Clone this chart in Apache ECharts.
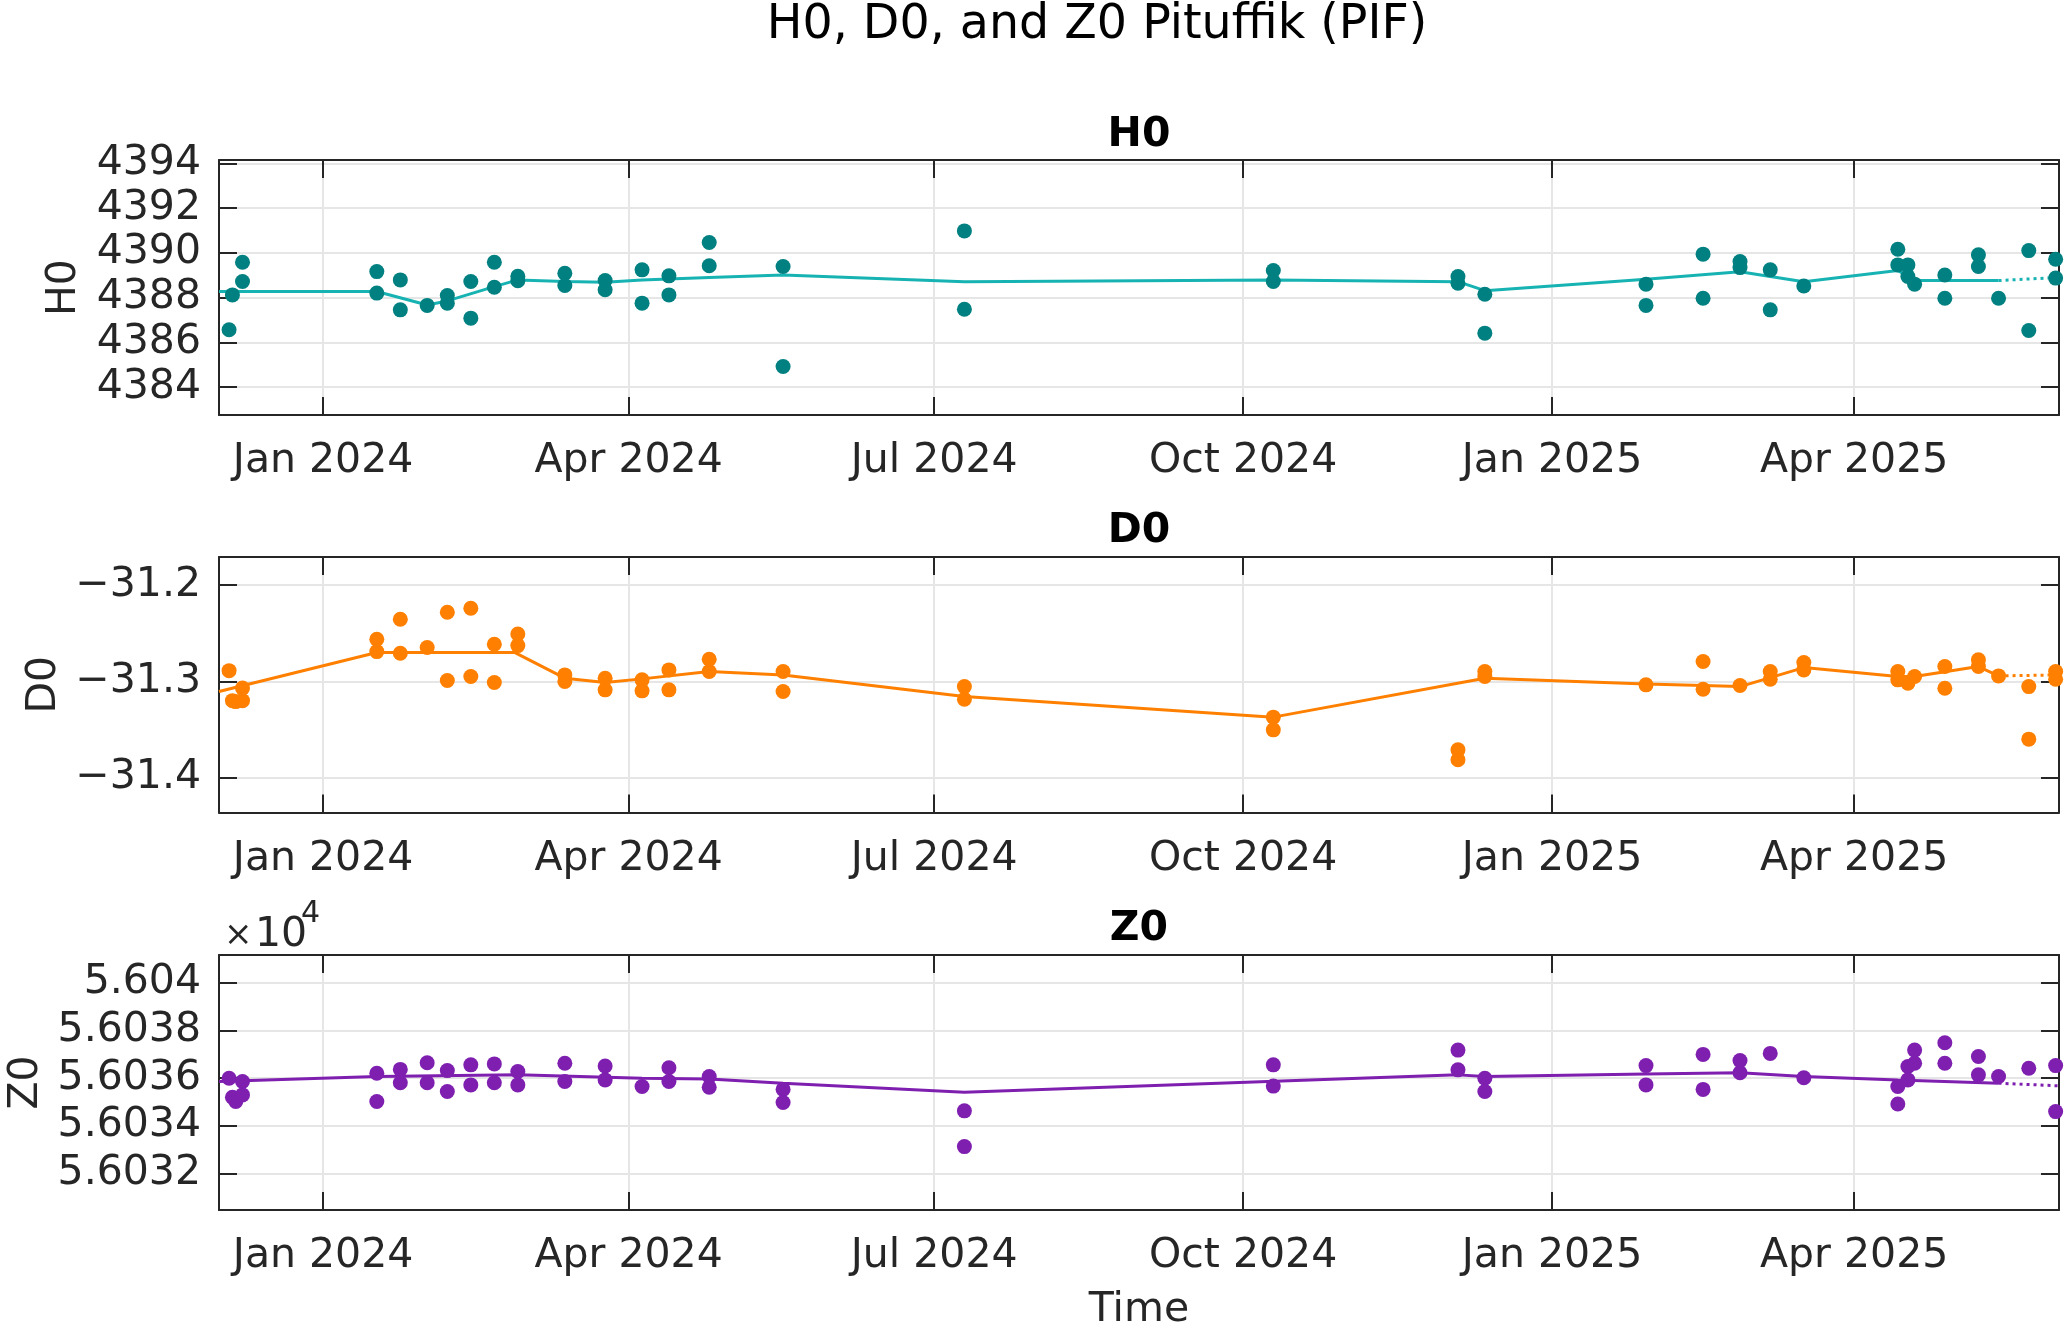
<!DOCTYPE html>
<html>
<head>
<meta charset="utf-8">
<style>
html,body{margin:0;padding:0;background:#fff;}
#chart{width:2067px;height:1325px;}
</style>
<script src="https://cdn.jsdelivr.net/npm/echarts@6.0.0/dist/echarts.min.js"></script>
</head>
<body>
<div id="chart"></div>
<script>
// ---------- data ----------
const xRange = ['2023-12-01', '2025-06-01'];
const xTickDates = ['2024-01-01', '2024-04-01', '2024-07-01', '2024-10-01', '2025-01-01', '2025-04-01'];
const xTickLabels = ['Jan 2024', 'Apr 2024', 'Jul 2024', 'Oct 2024', 'Jan 2025', 'Apr 2025'];

const h0Range = [4382.75, 4394.15];
const h0Ticks = [4384, 4386, 4388, 4390, 4392, 4394];
const h0TickLabels = ['4384', '4386', '4388', '4390', '4392', '4394'];

const d0Range = [-31.436, -31.171];
const d0Ticks = [-31.4, -31.3, -31.2];
const d0TickLabels = ['\u221231.4', '\u221231.3', '\u221231.2'];

const z0Range = [56030.46, 56041.16];
const z0Ticks = [56032, 56034, 56036, 56038, 56040];
const z0TickLabels = ['5.6032', '5.6034', '5.6036', '5.6038', '5.604'];

const h0Dates = ['2023-12-04','2023-12-05','2023-12-08','2023-12-08','2024-01-17','2024-01-17','2024-01-24','2024-01-24','2024-02-01','2024-02-07','2024-02-07','2024-02-14','2024-02-14','2024-02-21','2024-02-21','2024-02-28','2024-02-28','2024-03-13','2024-03-13','2024-03-25','2024-03-25','2024-04-05','2024-04-05','2024-04-13','2024-04-13','2024-04-25','2024-04-25','2024-05-17','2024-05-17','2024-07-10','2024-07-10','2024-10-10','2024-10-10','2024-12-04','2024-12-04','2024-12-12','2024-12-12','2025-01-29','2025-01-29','2025-02-15','2025-02-15','2025-02-26','2025-02-26','2025-03-07','2025-03-07','2025-03-17','2025-04-14','2025-04-14','2025-04-17','2025-04-17','2025-04-19','2025-04-28','2025-04-28','2025-05-08','2025-05-08','2025-05-14','2025-05-23','2025-05-23','2025-05-31','2025-05-31'];
const h0Values = [4386.56,4388.12,4388.72,4389.58,4389.16,4388.20,4388.79,4387.45,4387.65,4388.09,4387.75,4388.72,4387.08,4389.58,4388.46,4388.95,4388.75,4389.09,4388.54,4388.76,4388.35,4389.24,4387.75,4388.97,4388.12,4390.46,4389.42,4389.39,4384.92,4390.98,4387.48,4389.21,4388.72,4388.94,4388.64,4388.15,4386.41,4388.60,4387.65,4389.94,4387.97,4389.61,4389.34,4389.24,4387.45,4388.52,4390.16,4389.46,4389.46,4388.94,4388.60,4389.01,4387.97,4389.91,4389.39,4387.97,4390.10,4386.53,4389.71,4388.87];
const h0LineDates = ['2023-12-01','2024-01-17','2024-02-01','2024-02-07','2024-02-21','2024-02-28','2024-03-13','2024-03-25','2024-04-05','2024-04-25','2024-05-17','2024-07-10','2024-10-10','2024-12-04','2024-12-12','2025-01-29','2025-02-26','2025-03-17','2025-04-14','2025-04-19','2025-05-14'];
const h0LineValues = [4388.27,4388.27,4387.67,4387.85,4388.49,4388.79,4388.72,4388.69,4388.78,4388.90,4389.01,4388.71,4388.79,4388.71,4388.31,4388.82,4389.15,4388.71,4389.21,4388.76,4388.76];
const h0TailDates = ['2025-05-14','2025-06-01'];
const h0TailValues = [4388.76, 4388.90];

const d0Dates = ['2023-12-04','2023-12-05','2023-12-06','2023-12-08','2023-12-08','2024-01-17','2024-01-17','2024-01-24','2024-01-24','2024-02-01','2024-02-07','2024-02-07','2024-02-14','2024-02-14','2024-02-21','2024-02-21','2024-02-28','2024-02-28','2024-03-13','2024-03-13','2024-03-25','2024-03-25','2024-04-05','2024-04-05','2024-04-13','2024-04-13','2024-04-25','2024-04-25','2024-05-17','2024-05-17','2024-07-10','2024-07-10','2024-10-10','2024-10-10','2024-12-04','2024-12-04','2024-12-12','2024-12-12','2025-01-29','2025-02-15','2025-02-15','2025-02-26','2025-03-07','2025-03-07','2025-03-17','2025-03-17','2025-04-14','2025-04-14','2025-04-17','2025-04-19','2025-04-28','2025-04-28','2025-05-08','2025-05-08','2025-05-14','2025-05-23','2025-05-23','2025-05-31','2025-05-31'];
const d0Values = [-31.2889,-31.3200,-31.3210,-31.3070,-31.3200,-31.2563,-31.2691,-31.2356,-31.2708,-31.2649,-31.2283,-31.2991,-31.2242,-31.2950,-31.2615,-31.3012,-31.2508,-31.2629,-31.2933,-31.3000,-31.2967,-31.3088,-31.2984,-31.3098,-31.2881,-31.3088,-31.2770,-31.2898,-31.2898,-31.3105,-31.3054,-31.3185,-31.3371,-31.3503,-31.3710,-31.3813,-31.2898,-31.2950,-31.3036,-31.2794,-31.3081,-31.3043,-31.2898,-31.2978,-31.2805,-31.2881,-31.2898,-31.2984,-31.3019,-31.2950,-31.2846,-31.3071,-31.2777,-31.2846,-31.2943,-31.3054,-31.3599,-31.2898,-31.2978];
const d0LineDates = ['2023-12-01','2024-01-17','2024-02-27','2024-03-13','2024-03-25','2024-04-05','2024-04-25','2024-05-17','2024-07-10','2024-10-10','2024-12-12','2025-01-29','2025-02-15','2025-02-26','2025-03-17','2025-04-14','2025-04-19','2025-05-08','2025-05-14'];
const d0LineValues = [-31.3105,-31.2700,-31.2700,-31.2967,-31.3012,-31.2974,-31.2898,-31.2933,-31.3157,-31.3371,-31.2967,-31.3026,-31.3043,-31.3054,-31.2857,-31.2950,-31.2950,-31.2846,-31.2943];
const d0TailDates = ['2025-05-14','2025-06-01'];
const d0TailValues = [-31.2943, -31.2933];

const z0Dates = ['2023-12-04','2023-12-05','2023-12-06','2023-12-08','2023-12-08','2024-01-17','2024-01-17','2024-01-24','2024-01-24','2024-02-01','2024-02-01','2024-02-07','2024-02-07','2024-02-14','2024-02-14','2024-02-21','2024-02-21','2024-02-28','2024-02-28','2024-03-13','2024-03-13','2024-03-25','2024-03-25','2024-04-05','2024-04-13','2024-04-13','2024-04-25','2024-04-25','2024-05-17','2024-05-17','2024-07-10','2024-07-10','2024-10-10','2024-10-10','2024-12-04','2024-12-04','2024-12-12','2024-12-12','2025-01-29','2025-01-29','2025-02-15','2025-02-15','2025-02-26','2025-02-26','2025-03-07','2025-03-17','2025-04-14','2025-04-14','2025-04-17','2025-04-17','2025-04-19','2025-04-19','2025-04-28','2025-04-28','2025-05-08','2025-05-08','2025-05-14','2025-05-23','2025-05-31','2025-05-31'];
const z0Values = [56035.99,56035.19,56035.01,56035.85,56035.29,56036.20,56035.01,56036.36,56035.80,56036.64,56035.80,56036.31,56035.43,56036.55,56035.71,56036.59,56035.80,56036.27,56035.71,56036.62,56035.85,56036.50,56035.92,56035.64,56036.43,56035.85,56036.06,56035.61,56035.52,56034.97,56034.62,56033.12,56036.55,56035.66,56037.17,56036.34,56035.99,56035.43,56036.52,56035.71,56036.99,56035.52,56036.73,56036.22,56037.03,56036.01,56035.64,56034.91,56036.48,56035.92,56037.17,56036.62,56037.48,56036.62,56036.90,56036.13,56036.06,56036.41,56036.52,56034.59];
const z0LineDates = ['2023-12-01','2024-01-17','2024-02-28','2024-04-05','2024-04-25','2024-05-17','2024-07-10','2024-12-04','2024-12-12','2025-01-29','2025-02-26','2025-03-17','2025-04-14','2025-05-14'];
const z0LineValues = [56035.85,56036.06,56036.13,56035.99,56035.96,56035.78,56035.40,56036.13,56036.06,56036.17,56036.22,56036.06,56035.92,56035.78];
const z0TailDates = ['2025-05-14','2025-06-01'];
const z0TailValues = [56035.78, 56035.67];

// ---------- styling ----------
const FONT = 'DejaVu Sans';
const INK = '#262626';
const GRID_LINE = '#e6e6e6';

function ts(s) { return Date.parse(s + 'T00:00:00Z'); }
function pairs(dates, vals) { return dates.map((d, i) => [ts(d), vals[i]]); }

const xTickTs = xTickDates.map(ts);
const xMin = ts(xRange[0]), xMax = ts(xRange[1]);

const panels = [
  { name: 'H0', title: 'H0', range: h0Range, ticks: h0Ticks, labels: h0TickLabels,
    dots: pairs(h0Dates, h0Values), line: pairs(h0LineDates, h0LineValues), tail: pairs(h0TailDates, h0TailValues),
    dotColor: '#008080', lineColor: '#17B3B3', top: 160, height: 255, nameGap: 134, titleY: 135 },
  { name: 'D0', title: 'D0', range: d0Range, ticks: d0Ticks, labels: d0TickLabels,
    dots: pairs(d0Dates, d0Values), line: pairs(d0LineDates, d0LineValues), tail: pairs(d0TailDates, d0TailValues),
    dotColor: '#FF8000', lineColor: '#FF8000', top: 557, height: 255.5, nameGap: 143, titleY: 531 },
  { name: 'Z0', title: 'Z0', range: z0Range, ticks: z0Ticks, labels: z0TickLabels,
    dots: pairs(z0Dates, z0Values), line: pairs(z0LineDates, z0LineValues), tail: pairs(z0TailDates, z0TailValues),
    dotColor: '#7E1FB0', lineColor: '#7E1FB0', top: 955, height: 255, nameGap: 170, titleY: 929 }
];

const LEFT = 219, WIDTH = 1840;
const grid = [], xAxis = [], yAxis = [], series = [];
const axisLineStyle = { show: true, lineStyle: { color: INK, width: 2 } };
const tickBase = { show: true, inside: true, length: 18, lineStyle: { color: INK, width: 2 } };

panels.forEach((p, i) => {
  grid.push({ left: LEFT, width: WIDTH, top: p.top, height: p.height, containLabel: false, outerBoundsMode: 'none' });
  const last = i === panels.length - 1;
  xAxis.push({
    type: 'value', gridIndex: i, position: 'bottom', min: xMin, max: xMax,
    axisLine: axisLineStyle,
    axisTick: Object.assign({}, tickBase, { customValues: xTickTs }),
    axisLabel: { customValues: xTickTs, fontFamily: FONT, fontSize: 41, color: INK, margin: 26,
      formatter: v => { const k = xTickTs.indexOf(v); return k >= 0 ? xTickLabels[k] : ''; } },
    splitLine: { show: true, lineStyle: { color: GRID_LINE, width: 2 } },
    name: last ? 'Time' : '', nameLocation: 'middle', nameGap: 80,
    nameTextStyle: { fontFamily: FONT, fontSize: 41, color: INK }
  });
  xAxis.push({
    type: 'value', gridIndex: i, position: 'top', min: xMin, max: xMax,
    axisLine: axisLineStyle,
    axisTick: Object.assign({}, tickBase, { customValues: xTickTs }),
    axisLabel: { show: false }, splitLine: { show: false }
  });
  yAxis.push({
    type: 'value', gridIndex: i, position: 'left', min: p.range[0], max: p.range[1],
    axisLine: axisLineStyle,
    axisTick: Object.assign({}, tickBase, { customValues: p.ticks }),
    axisLabel: { customValues: p.ticks, fontFamily: FONT, fontSize: 41, color: INK, margin: 18,
      formatter: v => { const k = p.ticks.findIndex(t => Math.abs(t - v) < 1e-6); return k >= 0 ? p.labels[k] : ''; } },
    splitLine: { show: true, lineStyle: { color: GRID_LINE, width: 2 } },
    name: p.name, nameLocation: 'middle', nameRotate: 90, nameGap: p.nameGap,
    nameTextStyle: { fontFamily: FONT, fontSize: 41, color: INK }
  });
  yAxis.push({
    type: 'value', gridIndex: i, position: 'right', min: p.range[0], max: p.range[1],
    axisLine: axisLineStyle,
    axisTick: Object.assign({}, tickBase, { customValues: p.ticks }),
    axisLabel: { show: false }, splitLine: { show: false }
  });
  series.push({
    type: 'line', xAxisIndex: 2 * i, yAxisIndex: 2 * i, data: p.line, showSymbol: false, symbol: 'none',
    lineStyle: { color: p.lineColor, width: 3 }, z: 2, animation: false, silent: true
  });
  series.push({
    type: 'line', xAxisIndex: 2 * i, yAxisIndex: 2 * i, data: p.tail, showSymbol: false, symbol: 'none',
    lineStyle: { color: p.lineColor, width: 3, type: [3, 4] }, z: 2, animation: false, silent: true
  });
  series.push({
    type: 'scatter', xAxisIndex: 2 * i, yAxisIndex: 2 * i, data: p.dots, symbol: 'circle', symbolSize: 15,
    itemStyle: { color: p.dotColor, opacity: 1 }, z: 3, animation: false, clip: false
  });
});

const graphic = [
  { type: 'text', x: 1097, y: 26, style: { text: 'H0, D0, and Z0 Pituffik (PIF)', font: '47.5px "' + FONT + '"', fill: '#000', align: 'center', verticalAlign: 'middle' } }
];
panels.forEach(p => {
  graphic.push({ type: 'text', x: LEFT + WIDTH / 2, y: p.titleY, style: { text: p.title, font: 'bold 41px "' + FONT + '"', fill: '#000', align: 'center', verticalAlign: 'middle' } });
});
graphic.push({ type: 'text', x: 224, y: 936, style: { text: '\u00d7', font: '34px "' + FONT + '"', fill: INK, align: 'left', verticalAlign: 'middle' } });
graphic.push({ type: 'text', x: 255, y: 935, style: { text: '10', font: '41px "' + FONT + '"', fill: INK, align: 'left', verticalAlign: 'middle' } });
graphic.push({ type: 'text', x: 301, y: 914, style: { text: '4', font: '30px "' + FONT + '"', fill: INK, align: 'left', verticalAlign: 'middle' } });

const chart = echarts.init(document.getElementById('chart'), null, { renderer: 'canvas' });
chart.setOption({
  backgroundColor: '#ffffff',
  animation: false,
  grid, xAxis, yAxis, series, graphic
});
</script>
</body>
</html>
